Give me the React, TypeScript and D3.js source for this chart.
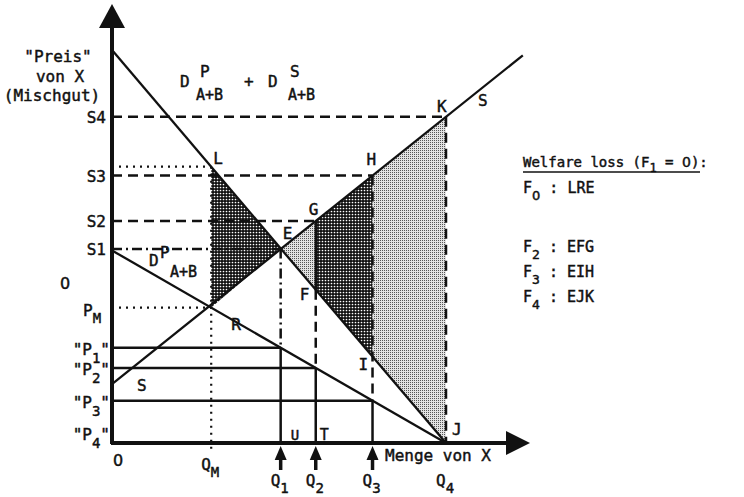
import React from "react";
import * as d3 from "d3";

// quantities on the X axis (Q_M, Q1..Q4)
const qLabels = ["M", "1", "2", "3", "4"];
const qValues = [2.97, 5.05, 6.1, 7.8, 10];
// demand lines: [price at q = 0, quantity at p = 0]
const totalDemand = [10, 10];
const privateDemand = [4.9, 10];
// supply: [price at q = 0, slope]
const supply = [1.5, 0.68];
const supplyEndQ = 12.3;
// welfare loss legend
const legendRows = [["0", "LRE"], ["2", "EFG"], ["3", "EIH"], ["4", "EJK"]];
const legendY = [193, 252, 277, 302];

const W = 744;
const H = 497;
const FONT = "'DejaVu Sans Mono', monospace";
const ZERO_FONT = "'DejaVu Sans', sans-serif";

const x = d3.scaleLinear().domain([0, 10]).range([112, 446]);
const y = d3.scaleLinear().domain([0, 10]).range([443, 50]);

const dTot = (q: number) => totalDemand[0] * (1 - q / totalDemand[1]);
const dPriv = (q: number) => privateDemand[0] * (1 - q / privateDemand[1]);
const sup = (q: number) => supply[0] + supply[1] * q;

const line = d3
  .line<[number, number]>()
  .x((d) => x(d[0]))
  .y((d) => y(d[1]));
const poly = (pts: [number, number][]) => line(pts) + "Z";

const DASH = "10 6";
const DOT = "2 5";
const DASHDOT = "10 4 2 4";

function Sub({ x0, y0, main, sub, anchor = "start", size = 16, after = "", dy = 7 }: any) {
  return (
    <text x={x0} y={y0} textAnchor={anchor} fontSize={size}>
      {main}
      <tspan dy={dy} fontSize={size - 2} fontFamily={sub === "0" ? ZERO_FONT : undefined}>{sub}</tspan>
      {after ? <tspan dy={-dy}>{after}</tspan> : null}
    </text>
  );
}

export default function App() {
  const [qM, q1, q2, q3, q4] = qValues;

  const L: [number, number] = [qM, dTot(qM)];
  const R: [number, number] = [qM, dPriv(qM)];
  const E: [number, number] = [q1, dTot(q1)];
  const F: [number, number] = [q2, dTot(q2)];
  const G: [number, number] = [q2, sup(q2)];
  const Hp: [number, number] = [q3, sup(q3)];
  const I: [number, number] = [q3, dTot(q3)];
  const J: [number, number] = [q4, 0];
  const K: [number, number] = [q4, sup(q4)];

  const hLines: { p: number; q: number; dash?: string }[] = [
    { p: sup(q4), q: q4, dash: DASH },
    { p: sup(q3), q: q3, dash: DASH },
    { p: dTot(qM), q: qM, dash: DOT },
    { p: sup(q2), q: q2, dash: DASH },
    { p: sup(q1), q: q1, dash: DASHDOT },
    { p: dPriv(qM), q: qM, dash: DOT },
    { p: dPriv(q1), q: q1 },
    { p: dPriv(q2), q: q2 },
    { p: dPriv(q3), q: q3 },
  ];

  const vLines: { q: number; p0: number; p1: number; dash?: string }[] = [
    { q: qM, p0: dTot(qM), p1: -0.15, dash: DOT },
    { q: q1, p0: dTot(q1), p1: dPriv(q1), dash: DASHDOT },
    { q: q1, p0: dPriv(q1), p1: 0 },
    { q: q2, p0: sup(q2), p1: dTot(q2) },
    { q: q2, p0: dTot(q2), p1: dPriv(q2), dash: DASH },
    { q: q2, p0: dPriv(q2), p1: 0 },
    { q: q3, p0: sup(q3), p1: dPriv(q3), dash: DASH },
    { q: q3, p0: dPriv(q3), p1: 0 },
    { q: q4, p0: sup(q4), p1: 0, dash: DASH },
  ];

  const x0 = x(0);
  const yA = y(0);

  return (
    <svg
      width={W}
      height={H}
      style={{ position: "absolute", left: 0, top: 0, background: "#fff" }}
      fontFamily={FONT}
      fill="#111"
    >
      <defs>
        <style>{"text { stroke: #111; stroke-width: 0.45px; }"}</style>
        <pattern id="dark" width="3" height="3" patternUnits="userSpaceOnUse">
          <rect width="3" height="3" fill="#111" />
          <circle cx="1.5" cy="1.5" r="0.85" fill="#fff" />
        </pattern>
        <pattern id="light" width="2" height="2" patternUnits="userSpaceOnUse">
          <rect width="2" height="2" fill="#e2e2e2" />
          <rect width="1" height="1" fill="#555" />
        </pattern>
      </defs>

      {/* shaded welfare loss areas */}
      <path d={poly([L, R, E])} fill="url(#dark)" />
      <path d={poly([E, F, G])} fill="url(#light)" />
      <path d={poly([G, F, I, Hp])} fill="url(#dark)" />
      <path d={poly([Hp, I, J, K])} fill="url(#light)" />

      {/* horizontal guide lines */}
      {hLines.map((h, i) => (
        <line
          key={"h" + i}
          x1={x0}
          x2={x(h.q)}
          y1={y(h.p)}
          y2={y(h.p)}
          stroke="#111"
          strokeWidth={h.dash === DOT ? 2.2 : 2.5}
          strokeDasharray={h.dash}
        />
      ))}
      {/* vertical guide lines */}
      {vLines.map((v, i) => (
        <line
          key={"v" + i}
          x1={x(v.q)}
          x2={x(v.q)}
          y1={y(v.p0)}
          y2={y(v.p1)}
          stroke="#111"
          strokeWidth={v.dash === DOT ? 2.2 : 2.5}
          strokeDasharray={v.dash}
        />
      ))}

      {/* demand and supply */}
      <path d={line([[0, totalDemand[0]], [totalDemand[1], 0]])!} stroke="#111" strokeWidth={2.3} fill="none" />
      <path d={line([[0, privateDemand[0]], [privateDemand[1], 0]])!} stroke="#111" strokeWidth={2.3} fill="none" />
      <path d={line([[0, sup(0)], [supplyEndQ, sup(supplyEndQ)]])!} stroke="#111" strokeWidth={2.3} fill="none" />

      {/* axes */}
      <line x1={x0} x2={x0} y1={yA + 1} y2={26} stroke="#111" strokeWidth={4} />
      <polygon points={`${x0},4 ${x0 - 13},28 ${x0 + 13},28`} fill="#111" />
      <line x1={x0 - 1} x2={508} y1={yA} y2={yA} stroke="#111" strokeWidth={4} />
      <polygon points={`530,${yA} 506,${yA - 12} 506,${yA + 12}`} fill="#111" />

      {/* arrows under Q1..Q3 */}
      {[q1, q2, q3].map((q, i) => (
        <g key={"a" + i}>
          <line x1={x(q)} x2={x(q)} y1={470} y2={456} stroke="#111" strokeWidth={3.5} />
          <polygon points={`${x(q)},446 ${x(q) - 6},460 ${x(q) + 6},460`} fill="#111" />
        </g>
      ))}

      {/* y axis title */}
      <text x={58} y={62} textAnchor="middle" fontSize={16}>"Preis"</text>
      <text x={60} y={82} textAnchor="middle" fontSize={16}>von X</text>
      <text x={52} y={101} textAnchor="middle" fontSize={16}>(Mischgut)</text>

      {/* y axis labels */}
      {[sup(q4), sup(q3), sup(q2), sup(q1)].map((p, i) => (
        <text key={"s" + i} x={106} y={y(p) + 6} textAnchor="end" fontSize={16}>
          {"S" + (4 - i)}
        </text>
      ))}
      <text x={65} y={289} textAnchor="middle" fontSize={16} fontFamily={ZERO_FONT}>0</text>
      <Sub x0={83} y0={y(dPriv(qM)) + 8} main="P" sub="M" />
      {[q1, q2, q3].map((q, i) => (
        <Sub key={"p" + i} x0={110} y0={y(dPriv(q)) + 7} main={'"P'} sub={String(i + 1)} after={'"'} anchor="end" dy={8} />
      ))}
      <Sub x0={110} y0={y(0) - 3} main={'"P'} sub="4" after={'"'} anchor="end" dy={8} />

      {/* x axis labels */}
      <text x={x0 + 6} y={466} textAnchor="middle" fontSize={16} fontFamily={ZERO_FONT}>0</text>
      <Sub x0={x(qM) - 10} y0={470} main="Q" sub={qLabels[0]} />
      {[q1, q2, q3, q4].map((q, i) => (
        <Sub key={"q" + i} x0={x(q) - 10} y0={486} main="Q" sub={qLabels[i + 1]} />
      ))}
      <text x={385} y={461} fontSize={16}>Menge von X</text>

      {/* point labels */}
      <text x={x(L[0]) + 2} y={y(L[1]) - 3} fontSize={16}>L</text>
      <text x={x(R[0]) + 20} y={y(R[1]) + 22} fontSize={16}>R</text>
      <text x={x(E[0]) + 2} y={y(E[1]) - 9} fontSize={16}>E</text>
      <text x={x(F[0]) - 16} y={y(F[1]) + 10} fontSize={16}>F</text>
      <text x={x(G[0]) - 7} y={y(G[1]) - 6} fontSize={16}>G</text>
      <text x={x(Hp[0]) - 6} y={y(Hp[1]) - 11} fontSize={16}>H</text>
      <text x={x(I[0]) - 14} y={y(I[1]) + 13} fontSize={16}>I</text>
      <text x={x(J[0]) + 6} y={y(J[1]) - 8} fontSize={16}>J</text>
      <text x={x(K[0]) - 9} y={y(K[1]) - 5} fontSize={16}>K</text>
      <text x={478} y={106} fontSize={16}>S</text>
      <text x={137} y={391} fontSize={16}>S</text>
      <text x={x(q1) + 10} y={440} fontSize={14}>U</text>
      <text x={x(q2) + 4} y={440} fontSize={15}>T</text>

      {/* demand labels */}
      <text x={180} y={87} fontSize={16}>D</text>
      <text x={200} y={77} fontSize={16}>P</text>
      <text x={196} y={100} fontSize={15}>A+B</text>
      <text x={244} y={87} fontSize={16}>+</text>
      <text x={268} y={87} fontSize={16}>D</text>
      <text x={290} y={77} fontSize={16}>S</text>
      <text x={288} y={100} fontSize={15}>A+B</text>
      <text x={149} y={266} fontSize={16}>D</text>
      <text x={160} y={258} fontSize={16}>P</text>
      <text x={170} y={277} fontSize={15}>A+B</text>

      {/* welfare loss legend */}
      <text x={523} y={167} fontSize={14}>
        Welfare loss (F<tspan dy={5} fontSize={12}>1</tspan>
        <tspan dy={-5}> = </tspan>
        <tspan fontFamily={ZERO_FONT}>0</tspan>
        <tspan>):</tspan>
      </text>
      <line x1={523} x2={700} y1={172} y2={172} stroke="#111" strokeWidth={1.5} />
      {legendRows.map((r, i) => (
        <text key={"l" + i} x={523} y={legendY[i]} fontSize={15}>
          F<tspan dy={7} fontSize={13} fontFamily={r[0] === "0" ? ZERO_FONT : undefined}>{r[0]}</tspan>
          <tspan dy={-7}> : {r[1]}</tspan>
        </text>
      ))}
    </svg>
  );
}
